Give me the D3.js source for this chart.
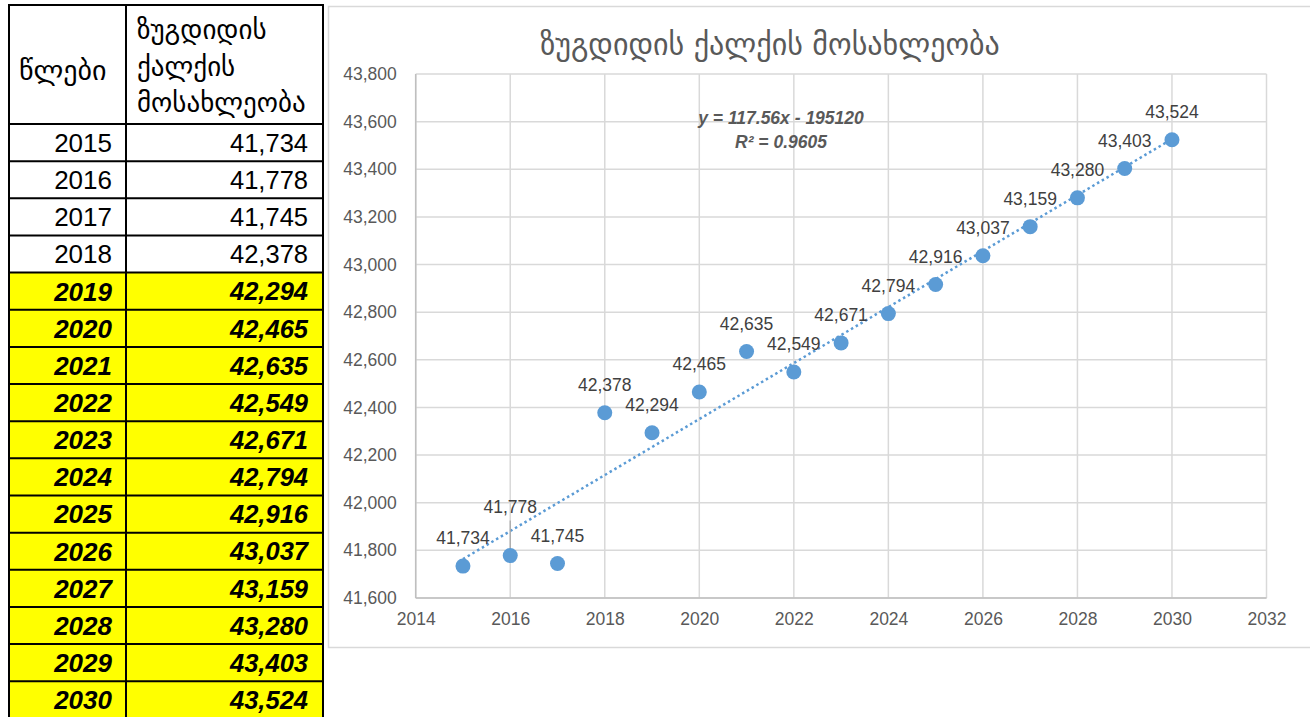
<!DOCTYPE html>
<html>
<head>
<meta charset="utf-8">
<script src="https://cdn.jsdelivr.net/npm/d3@7"></script>
<style>
  body { margin: 0; background: #fff; }
  svg { display: block; }
</style>
</head>
<body>
<div id="chart"></div>
<script>
// data
let years = [2015, 2016, 2017, 2018, 2019, 2020, 2021, 2022, 2023, 2024, 2025, 2026, 2027, 2028, 2029, 2030];
let population = [41734, 41778, 41745, 42378, 42294, 42465, 42635, 42549, 42671, 42794, 42916, 43037, 43159, 43280, 43403, 43524];
let forecastFrom = 2019;
let xTicks = [2014, 2016, 2018, 2020, 2022, 2024, 2026, 2028, 2030, 2032];
let yTicks = [41600, 41800, 42000, 42200, 42400, 42600, 42800, 43000, 43200, 43400, 43600, 43800];
let trendSlope = 117.56;
let trendIntercept = -195120;
let trendText = ["y = 117.56x - 195120", "R² = 0.9605"];
let chartTitle = "ზუგდიდის ქალქის მოსახლეობა";
let headYears = "წლები";
let headPop = ["ზუგდიდის", "ქალქის", "მოსახლეობა"];

let width = 1310, height = 717;
let geo = "'DejaVu Sans', sans-serif";
let num = "'Liberation Sans', Arial, sans-serif";
let fmt = d3.format(",");

let svg = d3.select("#chart").append("svg")
    .attr("width", width)
    .attr("height", height);

// ---------- table on the left ----------
let tx0 = 9, tx1 = 126, tx2 = 323;
let headTop = 5, headBottom = 124, rowH = 37.15;

let tbl = svg.append("g");

let rows = tbl.selectAll("g.row")
    .data(years.map((y, i) => ({year: y, pop: population[i], i: i})))
    .enter().append("g")
    .attr("class", "row")
    .attr("transform", d => "translate(0," + (headBottom + d.i * rowH) + ")");

rows.append("rect")
    .attr("x", tx0).attr("y", 0)
    .attr("width", tx2 - tx0).attr("height", rowH)
    .attr("fill", d => d.year >= forecastFrom ? "#ffff00" : "#fff");

rows.append("text")
    .attr("x", tx1 - 14).attr("y", rowH / 2)
    .attr("dy", "0.36em")
    .attr("text-anchor", "end")
    .style("font-family", num)
    .style("font-size", "26px")
    .style("font-weight", d => d.year >= forecastFrom ? "bold" : "normal")
    .style("font-style", d => d.year >= forecastFrom ? "italic" : "normal")
    .text(d => d.year);

rows.append("text")
    .attr("x", tx2 - 15).attr("y", rowH / 2)
    .attr("dy", "0.36em")
    .attr("text-anchor", "end")
    .style("font-family", num)
    .style("font-size", "25.5px")
    .style("font-weight", d => d.year >= forecastFrom ? "bold" : "normal")
    .style("font-style", d => d.year >= forecastFrom ? "italic" : "normal")
    .text(d => fmt(d.pop));

// row lines
rows.append("line")
    .attr("x1", tx0).attr("x2", tx2)
    .attr("y1", 0).attr("y2", 0)
    .attr("stroke", "#000").attr("stroke-width", 2);

// header
tbl.append("text")
    .attr("x", 19).attr("y", 70)
    .attr("dy", "0.35em")
    .style("font-family", geo)
    .style("font-size", "28px")
    .text(headYears);

tbl.selectAll("text.hp")
    .data(headPop)
    .enter().append("text")
    .attr("class", "hp")
    .attr("x", 137)
    .attr("y", (d, i) => 30 + i * 36.5)
    .attr("dy", "0.35em")
    .style("font-family", geo)
    .style("font-size", "27px")
    .text(d => d);

// outer & column borders
tbl.append("line").attr("x1", tx0).attr("x2", tx2).attr("y1", headTop).attr("y2", headTop)
    .attr("stroke", "#000").attr("stroke-width", 2);
[tx0, tx1, tx2].forEach(xx => {
  tbl.append("line").attr("x1", xx).attr("x2", xx).attr("y1", headTop - 1).attr("y2", height)
      .attr("stroke", "#000").attr("stroke-width", 2);
});

// ---------- chart on the right ----------
svg.append("rect")
    .attr("x", 328.5).attr("y", 6.5)
    .attr("width", 990).attr("height", 641)
    .attr("fill", "#fff")
    .attr("stroke", "#d9d9d9")
    .attr("stroke-width", 1.5);

let plotL = 415.7, plotR = 1266.5, plotT = 74, plotB = 598;

let x = d3.scaleLinear().domain([2014, 2032]).range([plotL, plotR]);
let y = d3.scaleLinear().domain([41600, 43800]).range([plotB, plotT]);

// gridlines
svg.append("g").selectAll("line")
    .data(yTicks)
    .enter().append("line")
    .attr("x1", plotL).attr("x2", plotR)
    .attr("y1", d => y(d)).attr("y2", d => y(d))
    .attr("stroke", "#d9d9d9").attr("stroke-width", 1.5);

svg.append("g").selectAll("line")
    .data(xTicks)
    .enter().append("line")
    .attr("x1", d => x(d)).attr("x2", d => x(d))
    .attr("y1", plotT).attr("y2", plotB)
    .attr("stroke", "#d9d9d9").attr("stroke-width", 1.5);

// axis lines
svg.append("line").attr("x1", plotL).attr("x2", plotR).attr("y1", plotB).attr("y2", plotB)
    .attr("stroke", "#bfbfbf").attr("stroke-width", 1.5);
svg.append("line").attr("x1", plotL).attr("x2", plotL).attr("y1", plotT).attr("y2", plotB)
    .attr("stroke", "#bfbfbf").attr("stroke-width", 1.5);

// tick labels
let yAxis = d3.axisLeft(y).tickValues(yTicks).tickFormat(fmt).tickSize(0).tickPadding(19);
let gy = svg.append("g").attr("transform", "translate(" + plotL + ",0)").call(yAxis);
let xAxis = d3.axisBottom(x).tickValues(xTicks).tickFormat(d3.format("d")).tickSize(0).tickPadding(15);
let gx = svg.append("g").attr("transform", "translate(0," + plotB + ")").call(xAxis);
[gx, gy].forEach(g => {
  g.select(".domain").remove();
  g.selectAll("text")
      .style("font-family", num)
      .style("font-size", "17.5px")
      .attr("fill", "#595959");
});

// title
svg.append("text")
    .attr("x", 770).attr("y", 44)
    .attr("dy", "0.35em")
    .attr("text-anchor", "middle")
    .style("font-family", geo)
    .style("font-size", "30px")
    .attr("fill", "#595959")
    .text(chartTitle);

// trendline
let tStart = d3.min(years), tEnd = d3.max(years);
svg.append("line")
    .attr("x1", x(tStart)).attr("y1", y(trendSlope * tStart + trendIntercept))
    .attr("x2", x(tEnd)).attr("y2", y(trendSlope * tEnd + trendIntercept))
    .attr("stroke", "#5b9bd5")
    .attr("stroke-width", 2.5)
    .attr("stroke-dasharray", "2.5,3");

svg.append("g").selectAll("text")
    .data(trendText)
    .enter().append("text")
    .attr("x", 781)
    .attr("y", (d, i) => 118 + i * 24)
    .attr("dy", "0.35em")
    .attr("text-anchor", "middle")
    .style("font-family", num)
    .style("font-size", "17.5px")
    .style("font-weight", "bold")
    .style("font-style", "italic")
    .attr("fill", "#595959")
    .text(d => d);

// points
let pts = years.map((yr, i) => ({year: yr, pop: population[i]}));

// one label in the picture was dragged up and has a leader line
let lifted = {2016: 49};

svg.append("g").selectAll("line")
    .data(pts.filter(d => lifted[d.year]))
    .enter().append("line")
    .attr("x1", d => x(d.year)).attr("x2", d => x(d.year))
    .attr("y1", d => y(d.pop) - lifted[d.year] + 14)
    .attr("y2", d => y(d.pop))
    .attr("stroke", "#a6a6a6").attr("stroke-width", 1.2);

svg.append("g").selectAll("circle")
    .data(pts)
    .enter().append("circle")
    .attr("cx", d => x(d.year))
    .attr("cy", d => y(d.pop))
    .attr("r", 7.5)
    .attr("fill", "#5b9bd5");

svg.append("g").selectAll("text")
    .data(pts)
    .enter().append("text")
    .attr("x", d => x(d.year))
    .attr("y", d => y(d.pop) - (lifted[d.year] || 28))
    .attr("dy", "0.35em")
    .attr("text-anchor", "middle")
    .style("font-family", num)
    .style("font-size", "17.5px")
    .attr("fill", "#404040")
    .text(d => fmt(d.pop));
</script>
</body>
</html>
